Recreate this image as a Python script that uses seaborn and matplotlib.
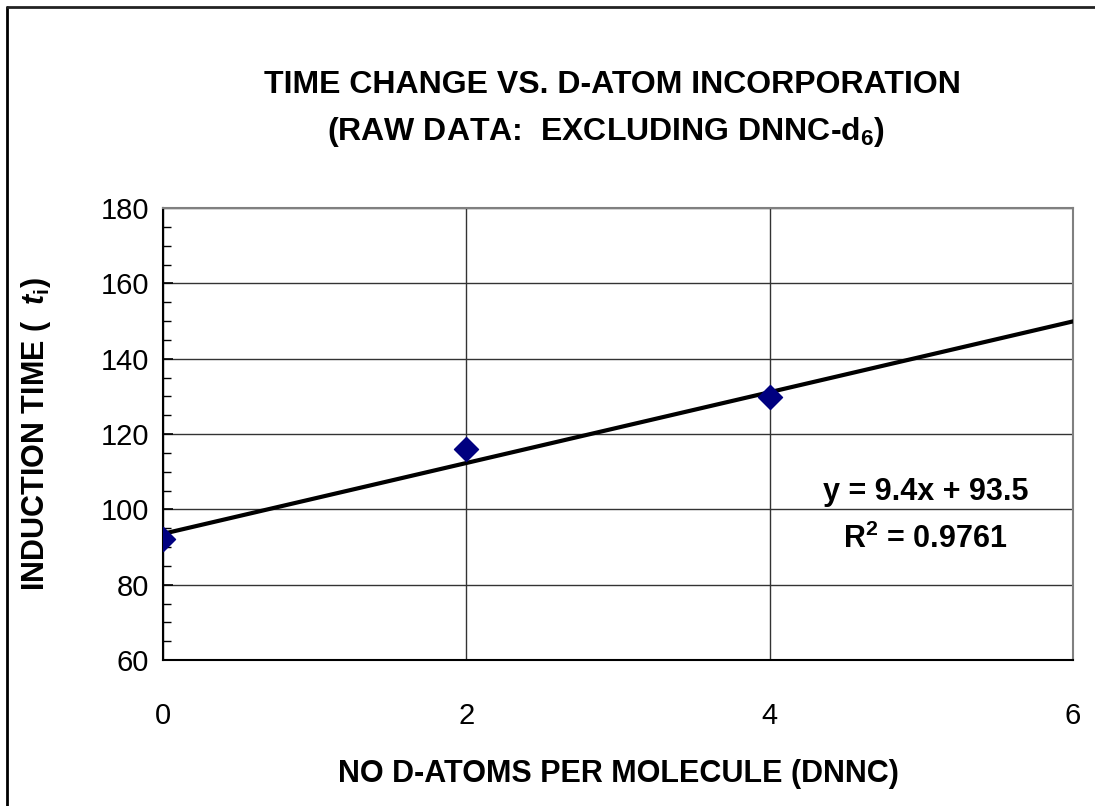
import numpy as np
import pandas as pd
import seaborn as sns
import matplotlib.pyplot as plt
from matplotlib.lines import Line2D
from matplotlib.ticker import MultipleLocator

sns.set_theme(style="white")
plt.rcParams['font.family'] = ['Liberation Sans', 'DejaVu Sans']
plt.rcParams['text.color'] = 'black'
plt.rcParams['axes.labelcolor'] = 'black'
plt.rcParams['xtick.color'] = 'black'
plt.rcParams['ytick.color'] = 'black'
plt.rcParams['mathtext.fontset'] = 'custom'
plt.rcParams['mathtext.rm'] = 'Liberation Sans'
plt.rcParams['mathtext.it'] = 'Liberation Sans:italic'
plt.rcParams['mathtext.bf'] = 'Liberation Sans:bold'
plt.rcParams['mathtext.bfit'] = 'Liberation Sans:italic:bold'

# data
d_atoms = [0, 2, 4]
induction_time = [92, 115.9, 129.8]
slope = 9.4
intercept = 93.5
r2 = 0.9761
trend_x = [0, 6]

pts = pd.DataFrame({'x': d_atoms, 'y': induction_time})
trend = pd.DataFrame({'x': trend_x, 'y': [slope * v + intercept for v in trend_x]})

fig = plt.figure(figsize=(10.95, 8.06), dpi=100)
ax = fig.add_axes([163 / 1095, 1 - 660 / 806, (1073 - 163) / 1095, (660 - 208) / 806])

sns.lineplot(data=trend, x='x', y='y', ax=ax, color='black', linewidth=3, zorder=3)
sns.scatterplot(data=pts, x='x', y='y', ax=ax, marker='D', s=150, color='#000080',
                edgecolor='#000080', zorder=4)

ax.set_xlim(0, 6)
ax.set_ylim(60, 180)
ax.xaxis.set_major_locator(MultipleLocator(2))
ax.yaxis.set_major_locator(MultipleLocator(20))
ax.yaxis.set_minor_locator(MultipleLocator(5))
ax.grid(True, which='major', color='#333333', linewidth=1)
ax.tick_params(axis='y', which='both', direction='in', left=True, labelsize=21, pad=10)
ax.tick_params(axis='y', which='major', length=7, width=1.2)
ax.tick_params(axis='y', which='minor', length=6, width=1)
ax.tick_params(axis='x', bottom=False, labelsize=21, pad=24)
for s in ['left', 'bottom']:
    ax.spines[s].set_color('black')
    ax.spines[s].set_linewidth(1.5)
for s in ['right', 'top']:
    ax.spines[s].set_color('#808080')
    ax.spines[s].set_linewidth(1.5)

ax.set_xlabel('NO D-ATOMS PER MOLECULE (DNNC)', fontsize=22, fontweight='bold', labelpad=21)
ax.set_ylabel(r'INDUCTION TIME (  $\mathbfit{t}_\mathregular{i}$)', fontsize=22,
              fontweight='bold', labelpad=34)

fig.text(612 / 1095, 1 - 85 / 806, 'TIME CHANGE VS. D-ATOM INCORPORATION',
         ha='center', va='center', fontsize=23, fontweight='bold')
fig.text(606 / 1095, 1 - 132 / 806, r'(RAW DATA:  EXCLUDING DNNC-d$_\mathbf{6}$)',
         ha='center', va='center', fontsize=23, fontweight='bold')

ax.text(0.838, 0.372, f'y = {slope}x + {intercept}', transform=ax.transAxes,
        ha='center', va='center', fontsize=22, fontweight='bold')
ax.text(0.838, 0.266, r'R$^\mathbf{2}$ = ' + f'{r2}', transform=ax.transAxes,
        ha='center', va='center', fontsize=22, fontweight='bold')

# outer chart border (left and top edges visible)
fig.add_artist(Line2D([6.5 / 1095, 6.5 / 1095], [0, 1 - 6.5 / 806], transform=fig.transFigure,
                      color='black', linewidth=2))
fig.add_artist(Line2D([6.5 / 1095, 1], [1 - 6.5 / 806, 1 - 6.5 / 806], transform=fig.transFigure,
                      color='#222222', linewidth=2))

fig.savefig('out.png', dpi=100)
